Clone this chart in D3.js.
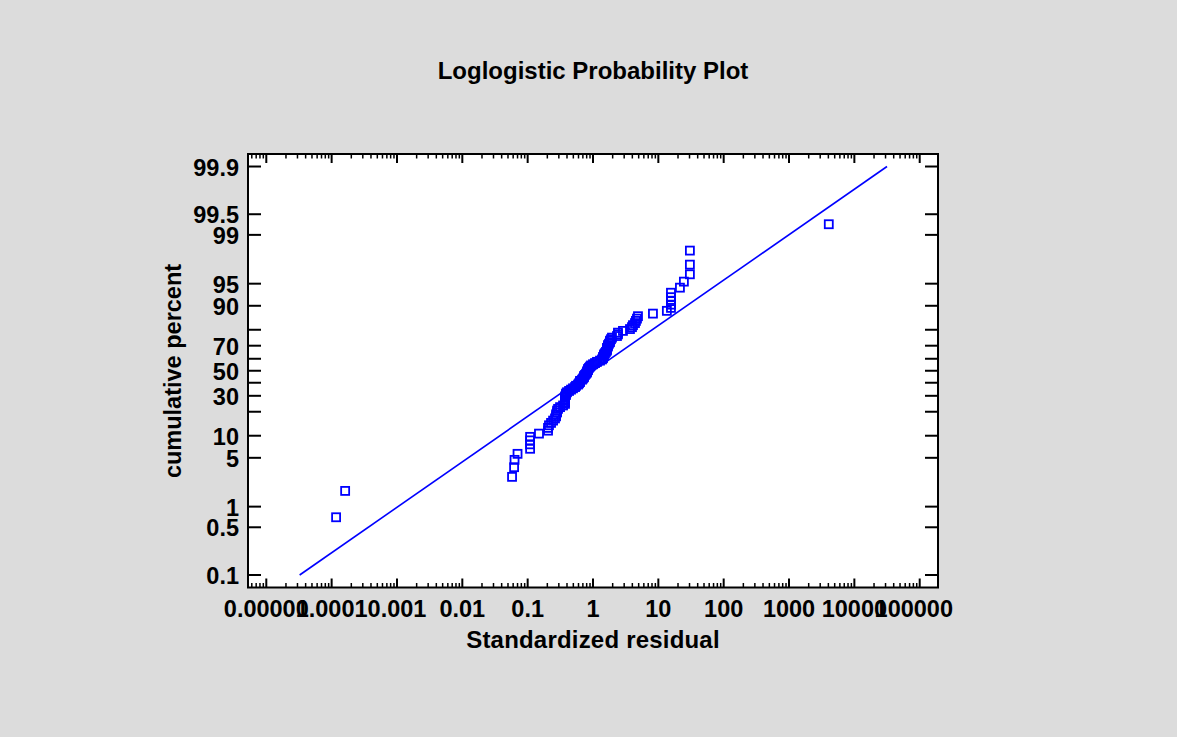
<!DOCTYPE html>
<html>
<head>
<meta charset="utf-8">
<script src="https://cdn.jsdelivr.net/npm/d3@7"></script>
<style>
  html, body { margin: 0; padding: 0; background: #dcdcdc; }
  svg { display: block; }
  text { font-family: "Liberation Sans", Arial, sans-serif; font-weight: bold; fill: #000; }
</style>
</head>
<body>
<script>
// ---------- data ----------
const titleText = "Loglogistic Probability Plot";
const xLabel = "Standardized residual";
const yLabel = "cumulative percent";

// standardized residuals (sorted)
const residuals = [
  0.000117, 0.000161, 0.0577, 0.062, 0.063, 0.070, 0.109, 0.109, 0.109, 0.109,
  0.149, 0.205, 0.205, 0.212, 0.228, 0.245, 0.262, 0.272, 0.272, 0.282,
  0.282, 0.292, 0.313, 0.348, 0.373, 0.373, 0.373, 0.373, 0.373, 0.373,
  0.386, 0.386, 0.400, 0.430, 0.461, 0.494, 0.531, 0.550, 0.590, 0.611,
  0.633, 0.633, 0.679, 0.703, 0.728, 0.728, 0.755, 0.782, 0.810, 0.810,
  0.839, 0.839, 0.869, 0.900, 0.932, 1.000, 1.073, 1.151, 1.280, 1.373,
  1.422, 1.422, 1.473, 1.473, 1.525, 1.580, 1.636, 1.636, 1.636, 1.695,
  1.695, 1.756, 1.819, 1.819, 1.884, 1.952, 2.328, 2.41, 2.41, 2.874,
  3.68, 3.95, 4.09, 4.39, 4.54, 4.71, 4.88, 8.27, 13.5, 15.6,
  15.6, 15.6, 15.6, 15.6, 21.4, 24.6, 30.4, 30.4, 30.4, 4060
];
// cumulative percent (plotting positions)
const cumPercent = [
  0.70, 1.69, 2.69, 3.69, 4.68, 5.68, 6.67, 7.67, 8.67, 9.66,
  10.66, 11.65, 12.65, 13.65, 14.64, 15.64, 16.63, 17.63, 18.63, 19.62,
  20.62, 21.61, 22.61, 23.61, 24.60, 25.60, 26.59, 27.59, 28.59, 29.58,
  30.58, 31.57, 32.57, 33.57, 34.56, 35.56, 36.55, 37.55, 38.55, 39.54,
  40.54, 41.53, 42.53, 43.53, 44.52, 45.52, 46.51, 47.51, 48.51, 49.50,
  50.50, 51.49, 52.49, 53.49, 54.48, 55.48, 56.47, 57.47, 58.47, 59.46,
  60.46, 61.45, 62.45, 63.45, 64.44, 65.44, 66.43, 67.43, 68.43, 69.42,
  70.42, 71.41, 72.41, 73.41, 74.40, 75.40, 76.39, 77.39, 78.39, 79.38,
  80.38, 81.37, 82.37, 83.37, 84.36, 85.36, 86.35, 87.35, 88.35, 89.34,
  90.34, 91.33, 92.33, 93.33, 94.32, 95.32, 96.31, 97.31, 98.31, 99.30
];
// fitted loglogistic line endpoints
const fitX = [3.24e-5, 3.16e4];
const fitP = [0.1, 99.9];

// axis ticks
const xTickValues = [1e-5, 1e-4, 1e-3, 1e-2, 1e-1, 1, 10, 100, 1000, 10000, 100000];
const xTickLabels = ["0.00001", "0.0001", "0.001", "0.01", "0.1", "1", "10", "100", "1000", "10000", "100000"];
const yTickValues = [0.1, 0.5, 1, 5, 10, 20, 30, 40, 50, 60, 70, 80, 90, 95, 99, 99.5, 99.9];
const yTickLabels = ["0.1", "0.5", "1", "5", "10", "", "30", "", "50", "", "70", "", "90", "95", "99", "99.5", "99.9"];

// ---------- layout ----------
const W = 1177, H = 737;
const L = 248, R = 938, T = 154, B = 587.5;
const blue = "#0000ff";

const svg = d3.select("body").append("svg").attr("width", W).attr("height", H);
svg.append("rect").attr("width", W).attr("height", H).attr("fill", "#dcdcdc");

const x = d3.scaleLog().domain([Math.pow(10, -5.28), Math.pow(10, 5.28)]).range([L, R]);
const logit = p => Math.log((p / 100) / (1 - p / 100));
const yLin = d3.scaleLinear().domain([-7.33, 7.33]).range([B, T]);
const y = p => yLin(logit(p));

// plot area
svg.append("rect").attr("x", L).attr("y", T).attr("width", R - L).attr("height", B - T).attr("fill", "#fff");

// x ticks (major + minor) on bottom and top, inward
const minor = [];
for (let d = -6; d <= 5; d++) for (let k = 2; k <= 9; k++) {
  const v = k * Math.pow(10, d);
  if (x(v) > L + 1 && x(v) < R - 1) minor.push(v);
}
const tg = svg.append("g").attr("stroke", "#000");
xTickValues.forEach(v => {
  const px = x(v);
  tg.append("line").attr("x1", px).attr("x2", px).attr("y1", B).attr("y2", B - 9).attr("stroke-width", 2);
  tg.append("line").attr("x1", px).attr("x2", px).attr("y1", T).attr("y2", T + 9).attr("stroke-width", 2);
});
minor.forEach(v => {
  const px = x(v);
  tg.append("line").attr("x1", px).attr("x2", px).attr("y1", B).attr("y2", B - 4.5).attr("stroke-width", 1.5);
  tg.append("line").attr("x1", px).attr("x2", px).attr("y1", T).attr("y2", T + 4.5).attr("stroke-width", 1.5);
});
yTickValues.forEach(v => {
  const py = y(v);
  tg.append("line").attr("x1", L).attr("x2", L + 13).attr("y1", py).attr("y2", py).attr("stroke-width", 2);
  tg.append("line").attr("x1", R).attr("x2", R - 13).attr("y1", py).attr("y2", py).attr("stroke-width", 2);
});

// frame
svg.append("rect").attr("x", L).attr("y", T).attr("width", R - L).attr("height", B - T)
  .attr("fill", "none").attr("stroke", "#000").attr("stroke-width", 2);

// tick labels (the last one is kept inside the right margin, as in the original)
const lastIdx = xTickValues.length - 1;
svg.append("g").selectAll("text").data(xTickValues).join("text")
  .attr("x", (d, i) => i === lastIdx ? 953 : x(d))
  .attr("y", 617)
  .attr("text-anchor", (d, i) => i === lastIdx ? "end" : "middle")
  .attr("font-size", 23.5).text((d, i) => xTickLabels[i]);
svg.append("g").selectAll("text").data(yTickValues).join("text")
  .attr("x", 239).attr("y", d => y(d) + 9).attr("text-anchor", "end")
  .attr("font-size", 23.5).text((d, i) => yTickLabels[i]);

// fitted line
const lineGen = d3.line().x(d => x(d[0])).y(d => y(d[1]));
svg.append("path").datum(fitX.map((v, i) => [v, fitP[i]]))
  .attr("d", lineGen).attr("fill", "none").attr("stroke", blue).attr("stroke-width", 1.6);

// points
const s = 8;
svg.append("g").selectAll("rect").data(residuals.map((v, i) => [v, cumPercent[i]])).join("rect")
  .attr("x", d => x(d[0]) - s / 2).attr("y", d => y(d[1]) - s / 2)
  .attr("width", s).attr("height", s)
  .attr("fill", "none").attr("stroke", blue).attr("stroke-width", 1.8);

// titles
svg.append("text").attr("x", 593).attr("y", 79).attr("text-anchor", "middle")
  .attr("font-size", 24).text(titleText);
svg.append("text").attr("x", 593).attr("y", 648).attr("text-anchor", "middle")
  .attr("font-size", 24).attr("letter-spacing", 0.2).text(xLabel);
svg.append("text").attr("transform", "translate(181,371) rotate(-90)").attr("text-anchor", "middle")
  .attr("font-size", 23.5).text(yLabel);
</script>
</body>
</html>
